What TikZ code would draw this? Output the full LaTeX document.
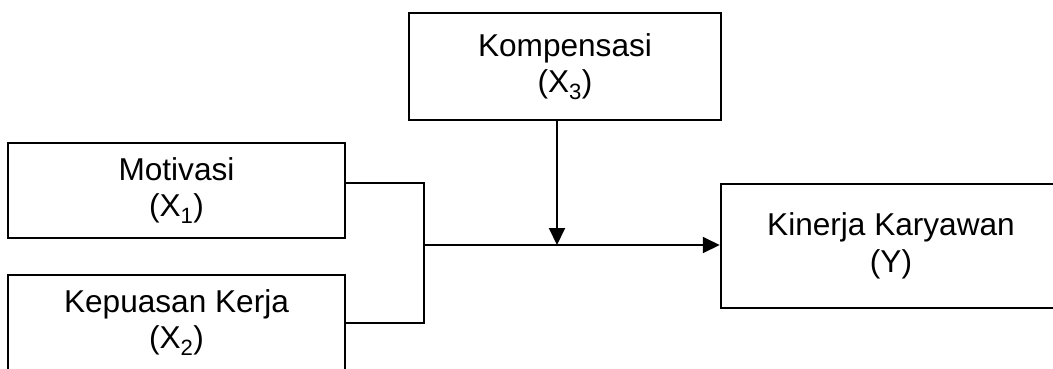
\documentclass[tikz,border=0pt]{standalone}
\usepackage{fontspec}
\setmainfont{Liberation Sans}
\usetikzlibrary{arrows.meta}
\begin{document}
\begin{tikzpicture}[x=1pt,y=-1pt,
  box/.style={draw=black, line width=2.5pt, rectangle, align=center, inner sep=0pt,
    font=\fontsize{31.6}{36.5}\selectfont},
  conn/.style={draw=black, line width=2pt},
  arr/.style={conn, -{Triangle[length=17pt,width=16pt]}}]
\useasboundingbox (0,0) rectangle (1053,368);
\clip (0,0) rectangle (1053,368);
\fill[white] (0,0) rectangle (1053,368);
\node[box, minimum width=337pt, minimum height=95pt] (X1) at (176.5,190.5) {Motivasi\\(X\textsubscript{1})};
\node[box, minimum width=337pt, minimum height=95pt] (X2) at (176.5,322.5) {Kepuasan Kerja\\(X\textsubscript{2})};
\node[box, minimum width=312pt, minimum height=107pt] (K) at (565,66.5) {Kompensasi\\(X\textsubscript{3})};
\node[box, minimum width=340pt, minimum height=124pt] (Y) at (891,246) {Kinerja Karyawan\\(Y)};
\coordinate (jt) at (424,183);
\coordinate (jb) at (424,323);
\coordinate (jm) at (424,245);
\coordinate (ka) at (557,245);
\draw[conn] (X1.east |- jt) -- (jt) -- (jb) -- (X2.east |- jb);
\draw[arr] (jm) -- (Y.west |- jm);
\draw[arr] (K.south -| ka) -- (ka);
\end{tikzpicture}
\end{document}
